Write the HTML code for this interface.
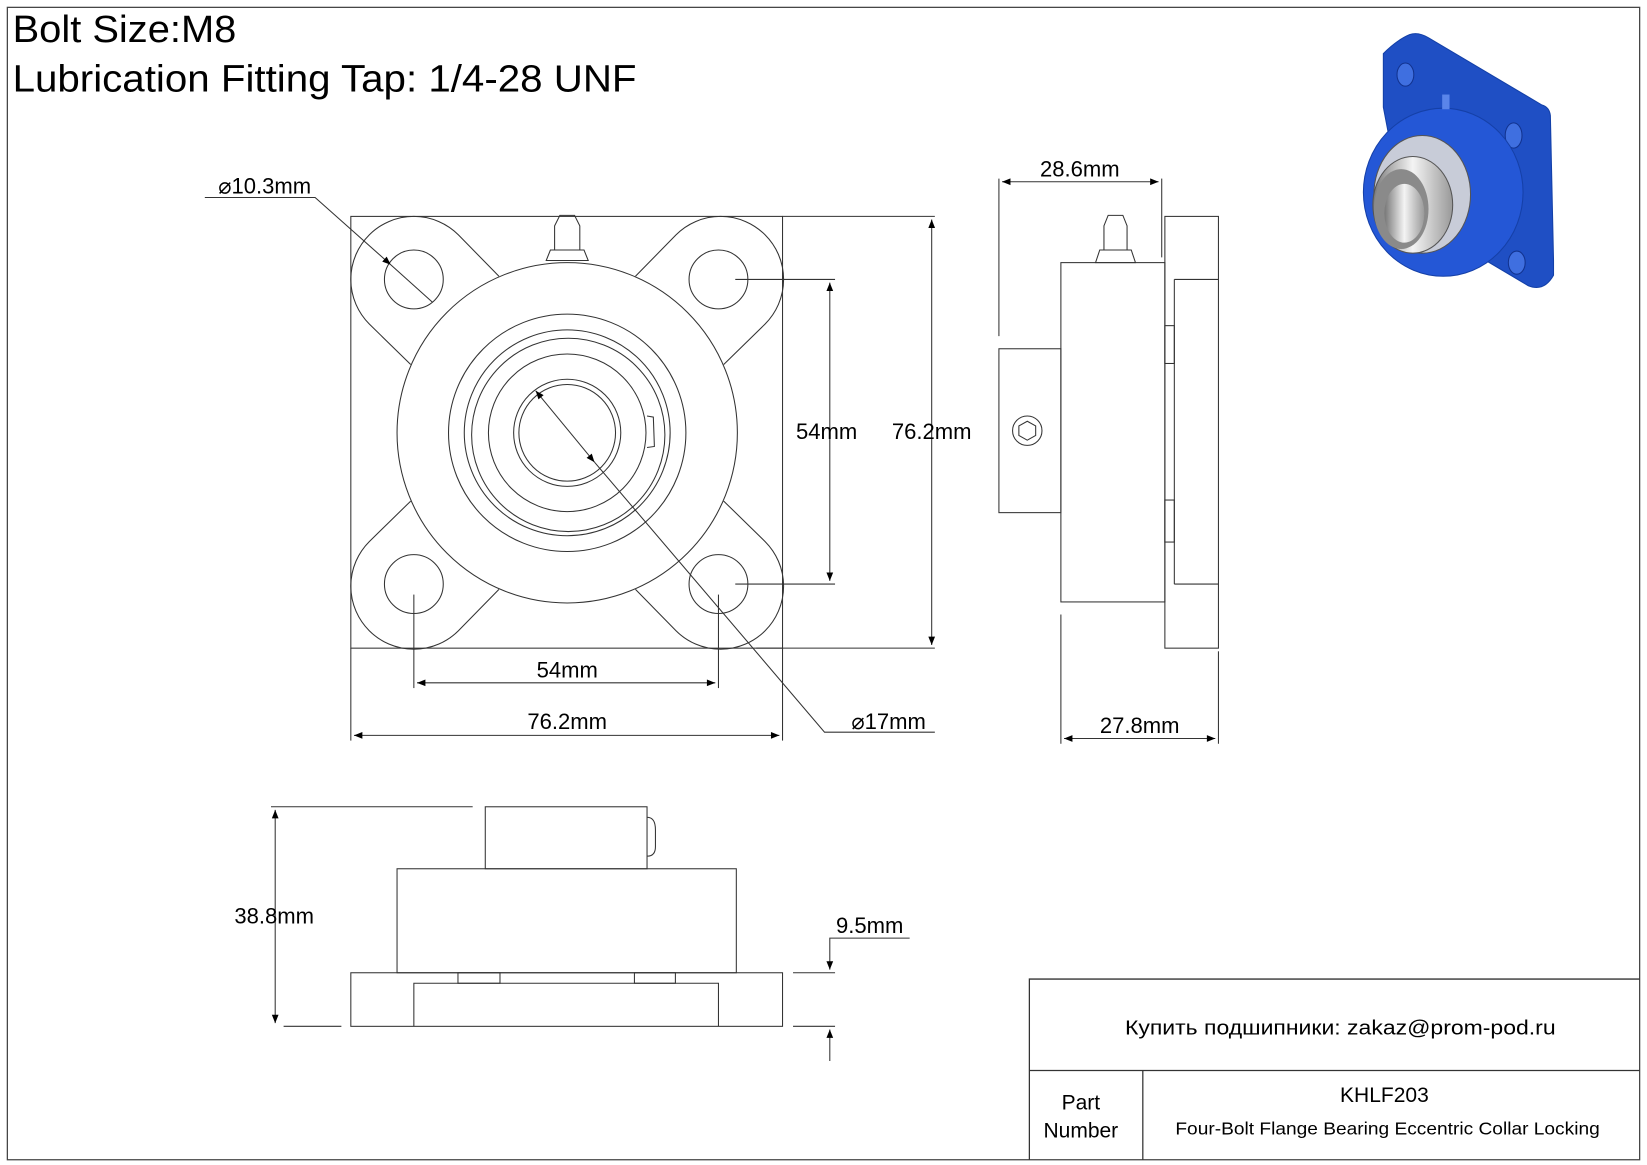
<!DOCTYPE html>
<html><head><meta charset="utf-8"><style>html,body{margin:0;padding:0;background:#fff}svg{display:block}</style></head>
<body>
<svg width="1647" height="1165" viewBox="0 0 1568 1109" preserveAspectRatio="none" xmlns="http://www.w3.org/2000/svg" font-family="Liberation Sans, DejaVu Sans, sans-serif">
<defs>
<marker id="a" viewBox="0 0 10 10" refX="10" refY="5" markerWidth="14" markerHeight="8" orient="auto-start-reverse" markerUnits="userSpaceOnUse"><path d="M0,1 L10,5 L0,9 z" fill="#000"/></marker>
<path id="lobe" d="M391,347 L351.57,308.43 A60,60 0 0 1 436.43,223.57 L475,263" fill="none"/>
<linearGradient id="sil" x1="0" y1="0" x2="1" y2="0"><stop offset="0" stop-color="#777"/><stop offset="0.5" stop-color="#f4f4f4"/><stop offset="1" stop-color="#999"/></linearGradient>
</defs>
<rect x="7" y="7" width="1554" height="1097" fill="none" stroke="#444" stroke-width="1.2"/>
<text x="12" y="40" font-size="36" textLength="213" lengthAdjust="spacingAndGlyphs">Bolt Size:M8</text>
<text x="12" y="87" font-size="36" textLength="594" lengthAdjust="spacingAndGlyphs">Lubrication Fitting Tap: 1/4-28 UNF</text>

<g fill="none" stroke="#333" stroke-width="1">
<rect x="334" y="206" width="411" height="411"/>
<use href="#lobe"/>
<use href="#lobe" transform="rotate(90 540 412)"/>
<use href="#lobe" transform="rotate(180 540 412)"/>
<use href="#lobe" transform="rotate(270 540 412)"/>
<circle cx="394" cy="266" r="28"/><circle cx="684" cy="266" r="28"/>
<circle cx="394" cy="556" r="28"/><circle cx="684" cy="556" r="28"/>
<circle cx="540" cy="412" r="162"/>
<circle cx="540" cy="412" r="113"/>
<circle cx="540" cy="412" r="98"/>
<circle cx="541" cy="414" r="92"/>
<circle cx="540" cy="412" r="75"/>
<circle cx="540" cy="412" r="51"/>
<circle cx="540" cy="412" r="46"/>
<path d="M616,396 L622,397 L623,425 L616,426"/>
<path d="M520,248 L560,248 L556,238 L524,238 Z M528,238 L528,215 L533,205 L547,205 L552,215 L552,238"/>
<line x1="745" y1="206" x2="890" y2="206"/>
<line x1="700" y1="266" x2="795" y2="266"/>
<line x1="700" y1="556" x2="795" y2="556"/>
<line x1="720" y1="617" x2="890" y2="617"/>
<line x1="394" y1="566" x2="394" y2="655"/>
<line x1="684" y1="566" x2="684" y2="655"/>
<line x1="334" y1="617" x2="334" y2="705"/>
<line x1="745" y1="617" x2="745" y2="705"/>
<line x1="397" y1="650" x2="681" y2="650" marker-start="url(#a)" marker-end="url(#a)"/>
<line x1="337" y1="700" x2="742" y2="700" marker-start="url(#a)" marker-end="url(#a)"/>
<line x1="790" y1="269" x2="790" y2="553" marker-start="url(#a)" marker-end="url(#a)"/>
<line x1="887" y1="209" x2="887" y2="614" marker-start="url(#a)" marker-end="url(#a)"/>
<path d="M195,188 L300,188 L372,252" marker-end="url(#a)"/>
<line x1="372" y1="252" x2="412" y2="288"/>
<line x1="510" y1="372" x2="566" y2="440" marker-start="url(#a)" marker-end="url(#a)"/>
<path d="M566,440 L785,697 L890,697"/>
<rect x="1109" y="206" width="51" height="411"/>
<line x1="1118" y1="266" x2="1118" y2="556"/>
<line x1="1118" y1="266" x2="1160" y2="266"/>
<line x1="1118" y1="556" x2="1160" y2="556"/>
<rect x="1109" y="310" width="9" height="36"/>
<rect x="1109" y="476" width="9" height="40"/>
<rect x="1010" y="250" width="99" height="323"/>
<rect x="951" y="332" width="59" height="156"/>
<circle cx="978" cy="410" r="14"/>
<polygon points="978,401 986,405.5 986,414.5 978,419 970,414.5 970,405.5"/>
<path d="M1043,250 L1081,250 L1077,238 L1047,238 Z M1051,238 L1051,215 L1055,205 L1069,205 L1073,215 L1073,238"/>
<line x1="951" y1="170" x2="951" y2="320"/>
<line x1="1106" y1="170" x2="1106" y2="245"/>
<line x1="954" y1="173" x2="1103" y2="173" marker-start="url(#a)" marker-end="url(#a)"/>
<line x1="1010" y1="585" x2="1010" y2="708"/>
<line x1="1160" y1="620" x2="1160" y2="708"/>
<line x1="1013" y1="703" x2="1157" y2="703" marker-start="url(#a)" marker-end="url(#a)"/>
<rect x="334" y="926" width="411" height="51"/>
<path d="M394,977 L394,936 L684,936 L684,977"/>
<rect x="436" y="926" width="40" height="10"/>
<rect x="604" y="926" width="39" height="10"/>
<rect x="378" y="827" width="323" height="99"/>
<rect x="462" y="768" width="154" height="59"/>
<path d="M616,778 Q624,778 624,790 L624,806 Q624,815 616,815"/>
<line x1="258" y1="768" x2="450" y2="768"/>
<line x1="270" y1="977" x2="325" y2="977"/>
<line x1="262" y1="771" x2="262" y2="974" marker-start="url(#a)" marker-end="url(#a)"/>
<line x1="755" y1="926" x2="795" y2="926"/>
<line x1="755" y1="977" x2="795" y2="977"/>
<path d="M866,893 L790,893 L790,923" marker-end="url(#a)"/>
<line x1="790" y1="1010" x2="790" y2="980" marker-end="url(#a)"/>
</g>
<g font-size="21" text-anchor="middle">
<text x="252" y="184">⌀10.3mm</text>
<text x="540" y="645">54mm</text>
<text x="540" y="694">76.2mm</text>
<text x="787" y="418">54mm</text>
<text x="887" y="418">76.2mm</text>
<text x="846" y="694">⌀17mm</text>
<text x="1028" y="168">28.6mm</text>
<text x="1085" y="698">27.8mm</text>
<text x="261" y="879">38.8mm</text>
<text x="828" y="888">9.5mm</text>
</g>
<g fill="none" stroke="#333" stroke-width="1.2">
<path d="M980,1104 L980,932 L1561,932"/>
<line x1="980" y1="1019" x2="1561" y2="1019"/>
<line x1="1088" y1="1019" x2="1088" y2="1104"/>
</g>
<g text-anchor="middle">
<text x="1276" y="985" font-size="19" textLength="410" lengthAdjust="spacingAndGlyphs">Купить подшипники: zakaz@prom-pod.ru</text>
<text x="1318" y="1049" font-size="20">KHLF203</text>
<text x="1321" y="1080" font-size="17" textLength="404" lengthAdjust="spacingAndGlyphs">Four-Bolt Flange Bearing Eccentric Collar Locking</text>
<text x="1029" y="1056" font-size="20">Part</text>
<text x="1029" y="1083" font-size="20">Number</text>
</g>
<!-- 3D view -->
<g>
<path d="M1342,33 Q1330,38 1317,51 L1317,102 L1330,170 L1400,240 L1418,250 L1455,272 Q1470,278 1479,262 L1479,248 L1476,110 Q1475,102 1468,100 L1360,36 Q1350,30 1342,33 Z" fill="#1f4fc4" stroke="#1340a8"/>
<ellipse cx="1338" cy="71" rx="8" ry="11" fill="#3f6fe0" stroke="#12338f"/>
<ellipse cx="1441" cy="129" rx="8" ry="12" fill="#3f6fe0" stroke="#12338f"/>
<ellipse cx="1444" cy="250" rx="8" ry="11" fill="#3f6fe0" stroke="#12338f"/>
<ellipse cx="1374" cy="183" rx="76" ry="80" fill="#2457d6" stroke="#1540a8"/>
<ellipse cx="1354" cy="185" rx="46" ry="56" fill="#c8ccd8" stroke="#555"/>
<ellipse cx="1345" cy="195" rx="38" ry="46" fill="url(#sil)" stroke="#555"/>
<ellipse cx="1334" cy="199" rx="26" ry="38" fill="#8a8a8a"/>
<ellipse cx="1337" cy="203" rx="19" ry="28" fill="url(#sil)"/>
<rect x="1373" y="90" width="7" height="14" fill="#5a85ea"/>
</g>
</svg>
</body></html>
